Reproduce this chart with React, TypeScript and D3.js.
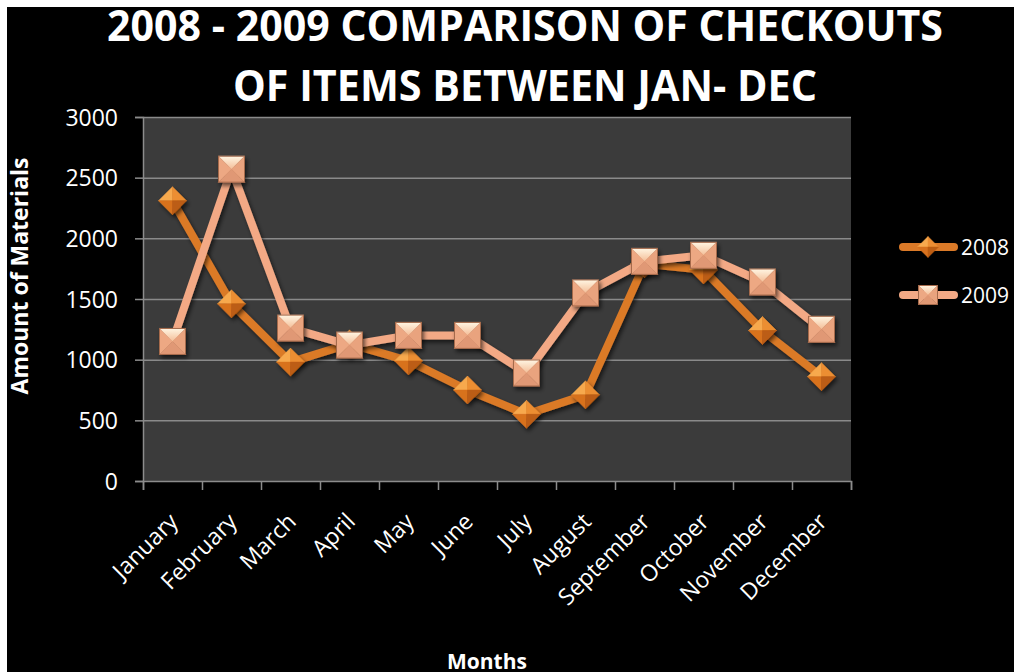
import React, { useRef, useEffect } from 'react';
import * as d3 from 'd3';

const MONTHS = ['January', 'February', 'March', 'April', 'May', 'June', 'July', 'August', 'September', 'October', 'November', 'December'];
const CHECKOUTS_2008 = [2310, 1460, 980, 1130, 990, 750, 550, 710, 1790, 1740, 1240, 860];
const CHECKOUTS_2009 = [1150, 2570, 1260, 1120, 1200, 1200, 890, 1550, 1810, 1860, 1640, 1250];
const Y_TICKS = [0, 500, 1000, 1500, 2000, 2500, 3000];
const SERIES_NAMES = ['2008', '2009'];
const TITLE_LINES = ['2008 - 2009 COMPARISON OF CHECKOUTS', 'OF ITEMS BETWEEN JAN- DEC'];

const W = 1014;
const H = 672;

function drawDiamond(g: any, r: number) {
  const facets = [
    { pts: [[0, 0], [0, -r], [-r, 0]], fill: '#F7A94E' },
    { pts: [[0, 0], [0, -r], [r, 0]], fill: '#EC8E33' },
    { pts: [[0, 0], [-r, 0], [0, r]], fill: '#D8721F' },
    { pts: [[0, 0], [r, 0], [0, r]], fill: '#BC5D13' },
  ];
  g.selectAll('polygon.f')
    .data(facets)
    .join('polygon')
    .attr('class', 'f')
    .attr('points', (d: any) => d.pts.map((p: number[]) => p.join(',')).join(' '))
    .attr('fill', (d: any) => d.fill)
    .attr('stroke', (d: any) => d.fill)
    .attr('stroke-width', 0.5);
}

function drawSquare(g: any, s: number) {
  const facets = [
    { pts: [[0, 0], [-s, -s], [s, -s]], fill: 'url(#sqTop)' },
    { pts: [[0, 0], [-s, -s], [-s, s]], fill: '#EDA883' },
    { pts: [[0, 0], [s, -s], [s, s]], fill: '#E9A37E' },
    { pts: [[0, 0], [-s, s], [s, s]], fill: '#E09874' },
  ];
  g.selectAll('polygon.f')
    .data(facets)
    .join('polygon')
    .attr('class', 'f')
    .attr('points', (d: any) => d.pts.map((p: number[]) => p.join(',')).join(' '))
    .attr('fill', (d: any) => d.fill)
    .attr('stroke', (d: any) => d.fill)
    .attr('stroke-width', 0.4);
  g.append('rect')
    .attr('x', -s).attr('y', -s)
    .attr('width', 2 * s).attr('height', 2 * s)
    .attr('fill', 'none')
    .attr('stroke', '#A56A4B')
    .attr('stroke-width', 1);
}

function Chart() {
  const svgRef = useRef<SVGSVGElement>(null);

  useEffect(() => {
    const svg = d3.select(svgRef.current);
    svg.selectAll('*').remove();

    const margin = { top: 117, right: W - 851, bottom: H - 481, left: 143 };
    const font = "'Open Sans', sans-serif";

    const defs = svg.append('defs');
    const grad = defs.append('linearGradient').attr('id', 'sqTop')
      .attr('x1', 0).attr('y1', 0).attr('x2', 0).attr('y2', 1);
    grad.append('stop').attr('offset', '0%').attr('stop-color', '#FFF5E2');
    grad.append('stop').attr('offset', '100%').attr('stop-color', '#F4BE98');
    const shadow = defs.append('filter').attr('id', 'shadow')
      .attr('x', '-30%').attr('y', '-30%').attr('width', '160%').attr('height', '160%');
    shadow.append('feDropShadow')
      .attr('dx', 2).attr('dy', 3).attr('stdDeviation', 2)
      .attr('flood-color', '#000').attr('flood-opacity', 0.6);

    svg.append('rect').attr('width', W).attr('height', H).attr('fill', '#fff');
    svg.append('rect').attr('x', 7).attr('y', 7).attr('width', W - 7).attr('height', H - 7).attr('fill', '#000');

    const x = d3.scaleBand()
      .domain(MONTHS)
      .range([margin.left, W - margin.right]);
    const cx = (m: string) => (x(m) as number) + x.bandwidth() / 2;

    const y = d3.scaleLinear()
      .domain([0, 3000])
      .range([H - margin.bottom, margin.top]);

    // plot area
    svg.append('rect')
      .attr('x', margin.left)
      .attr('y', margin.top)
      .attr('width', W - margin.right - margin.left)
      .attr('height', H - margin.bottom - margin.top)
      .attr('fill', '#3B3B3B');

    // gridlines + left axis
    const yAxis = svg.append('g')
      .attr('transform', `translate(${margin.left}, 0)`)
      .call(d3.axisLeft(y).tickValues(Y_TICKS).tickFormat(d3.format('d')).tickSize(8).tickPadding(17));
    yAxis.select('.domain').attr('stroke', '#8C8C8C').attr('stroke-width', 1.5);
    yAxis.selectAll('.tick line').attr('stroke', '#8C8C8C').attr('stroke-width', 1.5);
    yAxis.selectAll('.tick text')
      .attr('fill', '#fff')
      .attr('font-family', font)
      .attr('font-size', 23)
      .attr('dy', '0.36em');
    yAxis.selectAll('.tick')
      .append('line')
      .attr('x1', 0)
      .attr('x2', W - margin.right - margin.left)
      .attr('stroke', (d: any) => (d === 0 ? 'none' : '#8A8A8A'))
      .attr('stroke-width', 1.5);

    // bottom axis with ticks between categories
    const edges = d3.scaleLinear().domain([0, MONTHS.length]).range(x.range());
    const xAxis = svg.append('g')
      .attr('transform', `translate(0, ${H - margin.bottom})`)
      .call(d3.axisBottom(edges).tickValues(d3.range(MONTHS.length + 1)).tickSize(9).tickFormat(() => ''));
    xAxis.select('.domain').attr('stroke', '#8C8C8C').attr('stroke-width', 1.5);
    xAxis.selectAll('.tick line').attr('stroke', '#8C8C8C').attr('stroke-width', 1.5);

    svg.append('g')
      .selectAll('text')
      .data(MONTHS)
      .join('text')
      .attr('transform', d => `translate(${cx(d) + 7}, ${H - margin.bottom + 42}) rotate(-45)`)
      .attr('text-anchor', 'end')
      .attr('fill', '#fff')
      .attr('font-family', font)
      .attr('font-size', 23)
      .text(d => d);

    // series lines and markers
    const line = d3.line<number>()
      .x((_, i) => cx(MONTHS[i]))
      .y(d => y(d));

    const series = [
      { name: SERIES_NAMES[0], values: CHECKOUTS_2008, color: '#DB7A28', shape: 'diamond' },
      { name: SERIES_NAMES[1], values: CHECKOUTS_2009, color: '#F3A985', shape: 'square' },
    ];

    series.forEach(s => {
      svg.append('path')
        .datum(s.values)
        .attr('d', line)
        .attr('fill', 'none')
        .attr('stroke', s.color)
        .attr('stroke-width', 8)
        .attr('stroke-linejoin', 'round')
        .attr('filter', 'url(#shadow)');
      svg.append('g')
        .selectAll('g')
        .data(s.values)
        .join('g')
        .attr('transform', (d, i) => `translate(${cx(MONTHS[i])}, ${y(d)})`)
        .attr('filter', 'url(#shadow)')
        .each(function () {
          if (s.shape === 'diamond') drawDiamond(d3.select(this), 14);
          else drawSquare(d3.select(this), 13);
        });
    });

    // legend
    const legend = svg.append('g');
    series.forEach((s, i) => {
      const ly = 247 + i * 48;
      const g = legend.append('g').attr('transform', `translate(899, ${ly})`);
      g.append('line')
        .attr('x1', 4).attr('x2', 55)
        .attr('stroke', s.color).attr('stroke-width', 8).attr('stroke-linecap', 'round');
      const m = g.append('g').attr('transform', 'translate(29, 0)');
      if (s.shape === 'diamond') drawDiamond(m, 10.5);
      else drawSquare(m, 9.5);
      g.append('text')
        .attr('x', 62)
        .attr('y', 8)
        .attr('fill', '#fff')
        .attr('font-family', font)
        .attr('font-size', 21)
        .text(s.name);
    });

    // titles
    svg.append('g')
      .selectAll('text')
      .data(TITLE_LINES)
      .join('text')
      .attr('x', (d, i) => (i === 0 ? 107 : 233))
      .attr('y', (d, i) => (i === 0 ? 41 : 101))
      .attr('textLength', (d, i) => (i === 0 ? 836 : 584))
      .attr('lengthAdjust', 'spacingAndGlyphs')
      .attr('fill', '#fff')
      .attr('font-family', font)
      .attr('font-weight', 'bold')
      .attr('font-size', 43)
      .text(d => d);

    svg.append('text')
      .attr('transform', 'translate(28, 276) rotate(-90)')
      .attr('text-anchor', 'middle')
      .attr('fill', '#fff')
      .attr('font-family', font)
      .attr('font-weight', 'bold')
      .attr('font-size', 23)
      .text('Amount of Materials');

    svg.append('text')
      .attr('x', 487)
      .attr('y', 669)
      .attr('text-anchor', 'middle')
      .attr('fill', '#fff')
      .attr('font-family', font)
      .attr('font-weight', 'bold')
      .attr('font-size', 21)
      .text('Months');
  }, []);

  return <svg ref={svgRef} width={W} height={H} style={{ position: 'fixed', left: 0, top: 0, display: 'block' }}></svg>;
}

export default function App() {
  return <Chart />;
}
